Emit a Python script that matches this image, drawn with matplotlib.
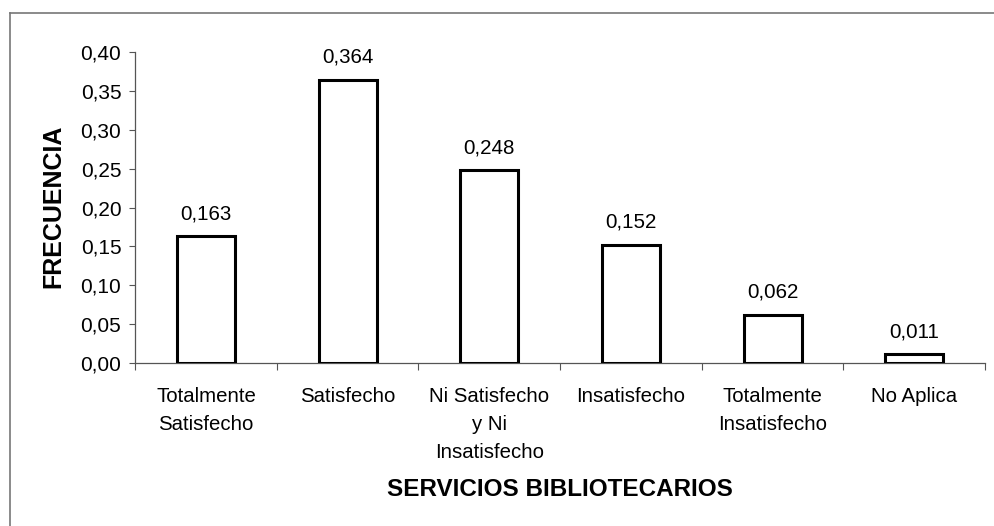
import matplotlib
matplotlib.use("Agg")
import matplotlib.pyplot as plt
from matplotlib.lines import Line2D
from matplotlib.ticker import FuncFormatter

categories = ["Totalmente\nSatisfecho", "Satisfecho", "Ni Satisfecho\ny Ni\nInsatisfecho",
              "Insatisfecho", "Totalmente\nInsatisfecho", "No Aplica"]
values = [0.163, 0.364, 0.248, 0.152, 0.062, 0.011]
value_labels = ["0,163", "0,364", "0,248", "0,152", "0,062", "0,011"]
yticks = [0.0, 0.05, 0.10, 0.15, 0.20, 0.25, 0.30, 0.35, 0.40]

plt.rcParams['font.family'] = ['Liberation Sans', 'DejaVu Sans']

fig = plt.figure(figsize=(9.94, 5.26), dpi=100)
ax = fig.add_axes([0.136, 0.310, 0.855, 0.591])

x = list(range(len(categories)))
bars = ax.bar(x, values, width=0.41, color="white", edgecolor="black", linewidth=2.2, zorder=3)
for xi, v, lab in zip(x, values, value_labels):
    ax.annotate(lab, (xi, v), xytext=(0, 9.5), textcoords="offset points",
                ha="center", va="bottom", fontsize=14.8)

ax.set_xlim(-0.5, len(categories) - 0.5)
ax.set_ylim(0, 0.40)
ax.set_yticks(yticks)
ax.yaxis.set_major_formatter(FuncFormatter(lambda v, p: f"{v:.2f}".replace(".", ",")))
ax.set_xticks([i + 0.5 for i in range(-1, len(categories))], minor=False)
ax.set_xticklabels([])
ax.set_xticks(x, minor=True)
ax.set_xticklabels(categories, minor=True, fontsize=14.7, linespacing=1.62, va="top")
ax.tick_params(axis="x", which="minor", length=0, pad=17)
ax.tick_params(axis="x", which="major", length=5, width=0.8, color="#555555")
ax.tick_params(axis="y", length=4, width=0.8, color="#555555", labelsize=15, pad=6)

for s in ["top", "right"]:
    ax.spines[s].set_visible(False)
for s in ["left", "bottom"]:
    ax.spines[s].set_color("#555555")
    ax.spines[s].set_linewidth(0.9)

fig.text(53 / 994, 1 - 206 / 526, "FRECUENCIA", fontsize=18, fontweight="bold",
         rotation=90, ha="center", va="center")
fig.text(560 / 994, 1 - 489 / 526, "SERVICIOS BIBLIOTECARIOS", fontsize=17.5, fontweight="bold",
         ha="center", va="center")

# outer frame (top and left edges visible)
fig.add_artist(Line2D([0.010, 1.0], [1 - 13 / 526, 1 - 13 / 526], transform=fig.transFigure,
                      color="#777777", linewidth=1.2))
fig.add_artist(Line2D([0.010, 0.010], [0.0, 1 - 13 / 526], transform=fig.transFigure,
                      color="#777777", linewidth=1.2))

fig.savefig("out.png", dpi=100)
